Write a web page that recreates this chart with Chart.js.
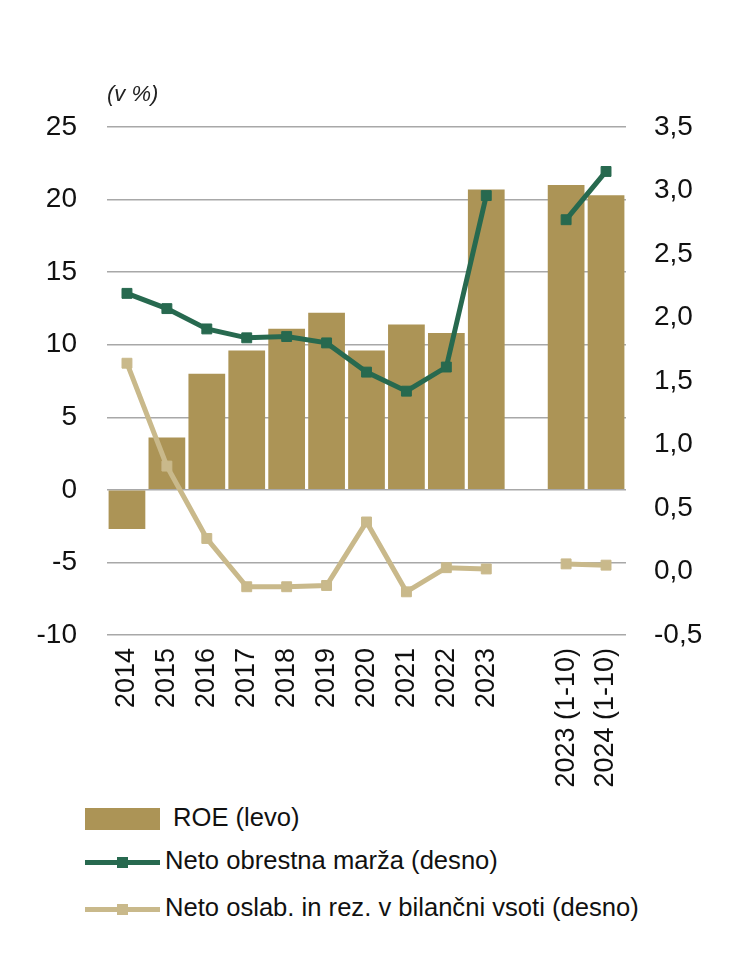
<!DOCTYPE html>
<html>
<head>
<meta charset="utf-8">
<script src="https://cdn.jsdelivr.net/npm/chart.js@4.4.1/dist/chart.umd.min.js"></script>
<style>
  html, body { margin: 0; padding: 0; background: #ffffff; }
  body { width: 750px; height: 971px; position: relative; overflow: hidden; font-family: "Liberation Sans", Arial, sans-serif; }
  #c { position: absolute; left: 0; top: 0; }
  #unit { position: absolute; left: 107px; top: 81px; font-size: 22px; font-style: italic; color: #222; }
  #legend { position: absolute; left: 0; top: 795px; width: 750px; }
  .row { position: absolute; left: 85px; height: 40px; width: 660px; }
  .sw { position: absolute; left: 0; width: 75px; }
  .txt { position: absolute; font-size: 25.6px; color: #111; white-space: nowrap; }
</style>
</head>
<body>
<canvas id="c" width="750" height="800"></canvas>
<div id="unit">(v %)</div>
<div id="legend"></div>
<script>
const categories = ["2014","2015","2016","2017","2018","2019","2020","2021","2022","2023","","2023 (1-10)","2024 (1-10)"];
const roe = [-2.7, 3.6, 8.0, 9.6, 11.1, 12.2, 9.6, 11.4, 10.8, 20.7, null, 21.0, 20.3];
const nim = [2.19, 2.07, 1.91, 1.84, 1.85, 1.80, 1.57, 1.42, 1.61, 2.96, null, 2.77, 3.15];
const impairments = [1.64, 0.83, 0.26, -0.12, -0.12, -0.11, 0.39, -0.16, 0.03, 0.02, null, 0.06, 0.05];
const seriesLabels = ["ROE (levo)", "Neto obrestna marža (desno)", "Neto oslab. in rez. v bilančni vsoti (desno)"];
const leftTicks = [-10, -5, 0, 5, 10, 15, 20, 25];
const rightTicks = [-0.5, 0.0, 0.5, 1.0, 1.5, 2.0, 2.5, 3.0, 3.5];

const colBar = "#ac9456";
const colGreen = "#27694f";
const colTan = "#c9b98b";

const ctx = document.getElementById('c').getContext('2d');
new Chart(ctx, {
  data: {
    labels: categories,
    datasets: [
      { type: 'line', label: seriesLabels[1], data: nim, yAxisID: 'y1', order: 1,
        borderColor: colGreen, backgroundColor: colGreen, borderWidth: 5, tension: 0,
        pointStyle: 'rect', pointRadius: 7, pointBorderWidth: 1, spanGaps: false },
      { type: 'line', label: seriesLabels[2], data: impairments, yAxisID: 'y1', order: 2,
        borderColor: colTan, backgroundColor: colTan, borderWidth: 5, tension: 0,
        pointStyle: 'rect', pointRadius: 7, pointBorderWidth: 1, spanGaps: false },
      { type: 'bar', label: seriesLabels[0], data: roe, yAxisID: 'y', order: 3,
        backgroundColor: colBar, borderWidth: 0, barPercentage: 0.92, categoryPercentage: 1.0 }
    ]
  },
  options: {
    responsive: false,
    animation: false,
    layout: { padding: { top: 127, bottom: 0, left: 0, right: 0 } },
    plugins: { legend: { display: false }, tooltip: { enabled: false } },
    scales: {
      x: {
        grid: { display: false, drawTicks: false },
        border: { display: false },
        ticks: { color: '#111', font: { family: 'Liberation Sans', size: 27 }, minRotation: 90, maxRotation: 90, autoSkip: false, padding: 13 },
        afterFit: s => { s.height = 165; }
      },
      y: {
        position: 'left', min: -10, max: 25,
        afterBuildTicks: s => { s.ticks = leftTicks.map(v => ({ value: v })); },
        grid: { color: '#a8a8a8', lineWidth: 1.5, drawTicks: false },
        border: { display: false },
        ticks: { color: '#111', font: { family: 'Liberation Sans', size: 28 }, padding: 30 },
        afterFit: s => { s.width = 107; }
      },
      y1: {
        position: 'right', min: -0.5, max: 3.5,
        afterBuildTicks: s => { s.ticks = rightTicks.map(v => ({ value: v })); },
        grid: { display: false, drawTicks: false },
        border: { display: false },
        ticks: { color: '#111', font: { family: 'Liberation Sans', size: 28 }, padding: 28,
          callback: v => Number(v).toFixed(1).replace('.', ',') },
        afterFit: s => { s.width = 124; }
      }
    }
  }
});

// HTML legend built from the series labels
const legend = document.getElementById('legend');
const rows = [
  { label: seriesLabels[0], kind: 'bar', color: colBar, top: 5, textLeft: 88 },
  { label: seriesLabels[1], kind: 'line', color: colGreen, top: 48, textLeft: 80 },
  { label: seriesLabels[2], kind: 'line', color: colTan, top: 95, textLeft: 80 }
];
rows.forEach(r => {
  const row = document.createElement('div');
  row.className = 'row';
  row.style.top = r.top + 'px';
  const sw = document.createElement('div');
  sw.className = 'sw';
  if (r.kind === 'bar') {
    sw.style.top = '8px'; sw.style.height = '22px'; sw.style.background = r.color;
  } else {
    sw.style.top = '17px'; sw.style.height = '5px'; sw.style.background = r.color;
    const m = document.createElement('div');
    m.style.position = 'absolute'; m.style.left = '32px'; m.style.top = '-3px';
    m.style.width = '11px'; m.style.height = '11px'; m.style.background = r.color;
    sw.appendChild(m);
  }
  const t = document.createElement('div');
  t.className = 'txt';
  t.style.left = r.textLeft + 'px'; t.style.top = '3px';
  t.textContent = r.label;
  row.appendChild(sw); row.appendChild(t);
  legend.appendChild(row);
});
</script>
</body>
</html>
